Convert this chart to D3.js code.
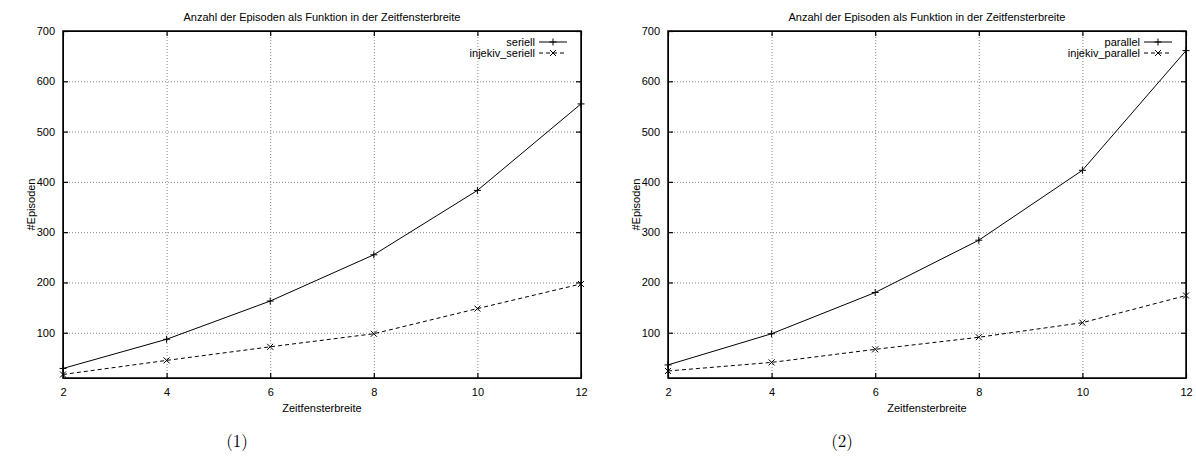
<!DOCTYPE html>
<html lang="de">
<head>
	<title>Anzahl der Episoden</title>
	<meta charset="utf-8">
	<script src="https://d3js.org/d3.v7.min.js" charset="utf-8"></script>
	<style>
		body { margin: 0; background: #fff; }
		text { font-family: "Liberation Sans", Arial, sans-serif; font-size: 11px; fill: #000; }
		.caption { font-family: "Latin Modern Roman", "DejaVu Serif", "Liberation Serif", serif; font-size: 17px; }
		.grid line { stroke: #888; stroke-dasharray: 1,2; }
		.grid path { display: none; }
	</style>
</head>
<body>
	<script>
		// values
		var zeitfenster = [2, 4, 6, 8, 10, 12];
		var seriell = [29, 87, 163, 255, 383, 555];
		var injekivSeriell = [17, 45, 72, 98, 148, 197];
		var parallel = [36, 98, 180, 284, 423, 661];
		var injekivParallel = [24, 41, 67, 91, 120, 174];

		var xTicks = [2, 4, 6, 8, 10, 12];
		var yTicks = [100, 200, 300, 400, 500, 600, 700];
		var titel = "Anzahl der Episoden als Funktion in der Zeitfensterbreite";

		var width = 1196;
		var height = 457;

		var svg = d3.select("body")
			.append("svg")
			.attr("width", width)
			.attr("height", height);

		function panel(left, names, a, b, caption) {
			var top = 31, plotW = 518, plotH = 347;
			var g = svg.append("g").attr("transform", "translate(" + left + "," + top + ")");

			var x = d3.scaleLinear().domain([2, 12]).range([0, plotW]);
			var y = d3.scaleLinear().domain([10, 700]).range([plotH, 0]);

			// dotted grid
			g.append("g").attr("class", "grid")
				.call(d3.axisBottom(x).tickValues([4, 6, 8, 10]).tickSize(plotH).tickFormat(""));
			g.append("g").attr("class", "grid")
				.call(d3.axisLeft(y).tickValues([100, 200, 300, 400, 500, 600]).tickSize(-plotW).tickFormat(""));

			// axes with inward ticks, mirrored on top and right
			var xb = g.append("g").attr("transform", "translate(0," + plotH + ")")
				.call(d3.axisBottom(x).tickValues(xTicks).tickSizeInner(-5).tickSizeOuter(0).tickPadding(10));
			var xt = g.append("g")
				.call(d3.axisTop(x).tickValues(xTicks).tickSizeInner(-5).tickSizeOuter(0).tickFormat(""));
			var yl = g.append("g")
				.call(d3.axisLeft(y).tickValues(yTicks).tickSizeInner(-5).tickSizeOuter(0).tickPadding(8));
			var yr = g.append("g").attr("transform", "translate(" + plotW + ",0)")
				.call(d3.axisRight(y).tickValues(yTicks).tickSizeInner(-5).tickSizeOuter(0).tickFormat(""));
			[xb, xt, yl, yr].forEach(function(ax) {
				ax.selectAll("text").attr("font-size", null).attr("font-family", null);
				ax.selectAll("line").attr("stroke", "#000").attr("stroke-width", 1.2);
			});

			g.append("rect")
				.attr("width", plotW).attr("height", plotH)
				.attr("fill", "none").attr("stroke", "#000").attr("stroke-width", 1.5);

			var line = d3.line()
				.x(function(d, i) { return x(zeitfenster[i]); })
				.y(function(d) { return y(d); });

			g.append("path").datum(a)
				.attr("d", line).attr("fill", "none").attr("stroke", "#000").attr("stroke-width", 1);
			g.append("path").datum(b)
				.attr("d", line).attr("fill", "none").attr("stroke", "#000").attr("stroke-width", 1)
				.attr("stroke-dasharray", "4,3");

			function plus(sel, cx, cy) {
				sel.append("path")
					.attr("d", "M" + (cx - 3.5) + "," + cy + "H" + (cx + 3.5) + "M" + cx + "," + (cy - 3.5) + "V" + (cy + 3.5))
					.attr("stroke", "#000").attr("stroke-width", 1);
			}
			function cross(sel, cx, cy) {
				sel.append("path")
					.attr("d", "M" + (cx - 3) + "," + (cy - 3) + "L" + (cx + 3) + "," + (cy + 3) +
						"M" + (cx - 3) + "," + (cy + 3) + "L" + (cx + 3) + "," + (cy - 3))
					.attr("stroke", "#000").attr("stroke-width", 1);
			}
			a.forEach(function(d, i) { plus(g, x(zeitfenster[i]), y(d)); });
			b.forEach(function(d, i) { cross(g, x(zeitfenster[i]), y(d)); });

			// legend
			var lx = plotW - 42, lw = 28;
			[0, 1].forEach(function(k) {
				var ly = 11 + k * 11;
				g.append("text").attr("x", lx - 4).attr("y", ly + 4)
					.attr("text-anchor", "end").text(names[k]);
				var p = g.append("line").attr("x1", lx).attr("x2", lx + lw)
					.attr("y1", ly).attr("y2", ly).attr("stroke", "#000");
				if (k == 1) { p.attr("stroke-dasharray", "4,3"); cross(g, lx + lw / 2, ly); }
				else plus(g, lx + lw / 2, ly);
			});

			// titles
			g.append("text").attr("x", plotW / 2).attr("y", -10)
				.attr("text-anchor", "middle").text(titel);
			g.append("text").attr("x", plotW / 2).attr("y", plotH + 34)
				.attr("text-anchor", "middle").text("Zeitfensterbreite");
			g.append("text")
				.attr("transform", "translate(-28," + (plotH / 2) + ") rotate(-90)")
				.attr("text-anchor", "middle").text("#Episoden");

			svg.append("text").attr("class", "caption")
				.attr("x", left + 174).attr("y", 447)
				.attr("text-anchor", "middle").text(caption);
		}

		panel(63, ["seriell", "injekiv_seriell"], seriell, injekivSeriell, "(1)");
		panel(668, ["parallel", "injekiv_parallel"], parallel, injekivParallel, "(2)");
	</script>
</body>
</html>
